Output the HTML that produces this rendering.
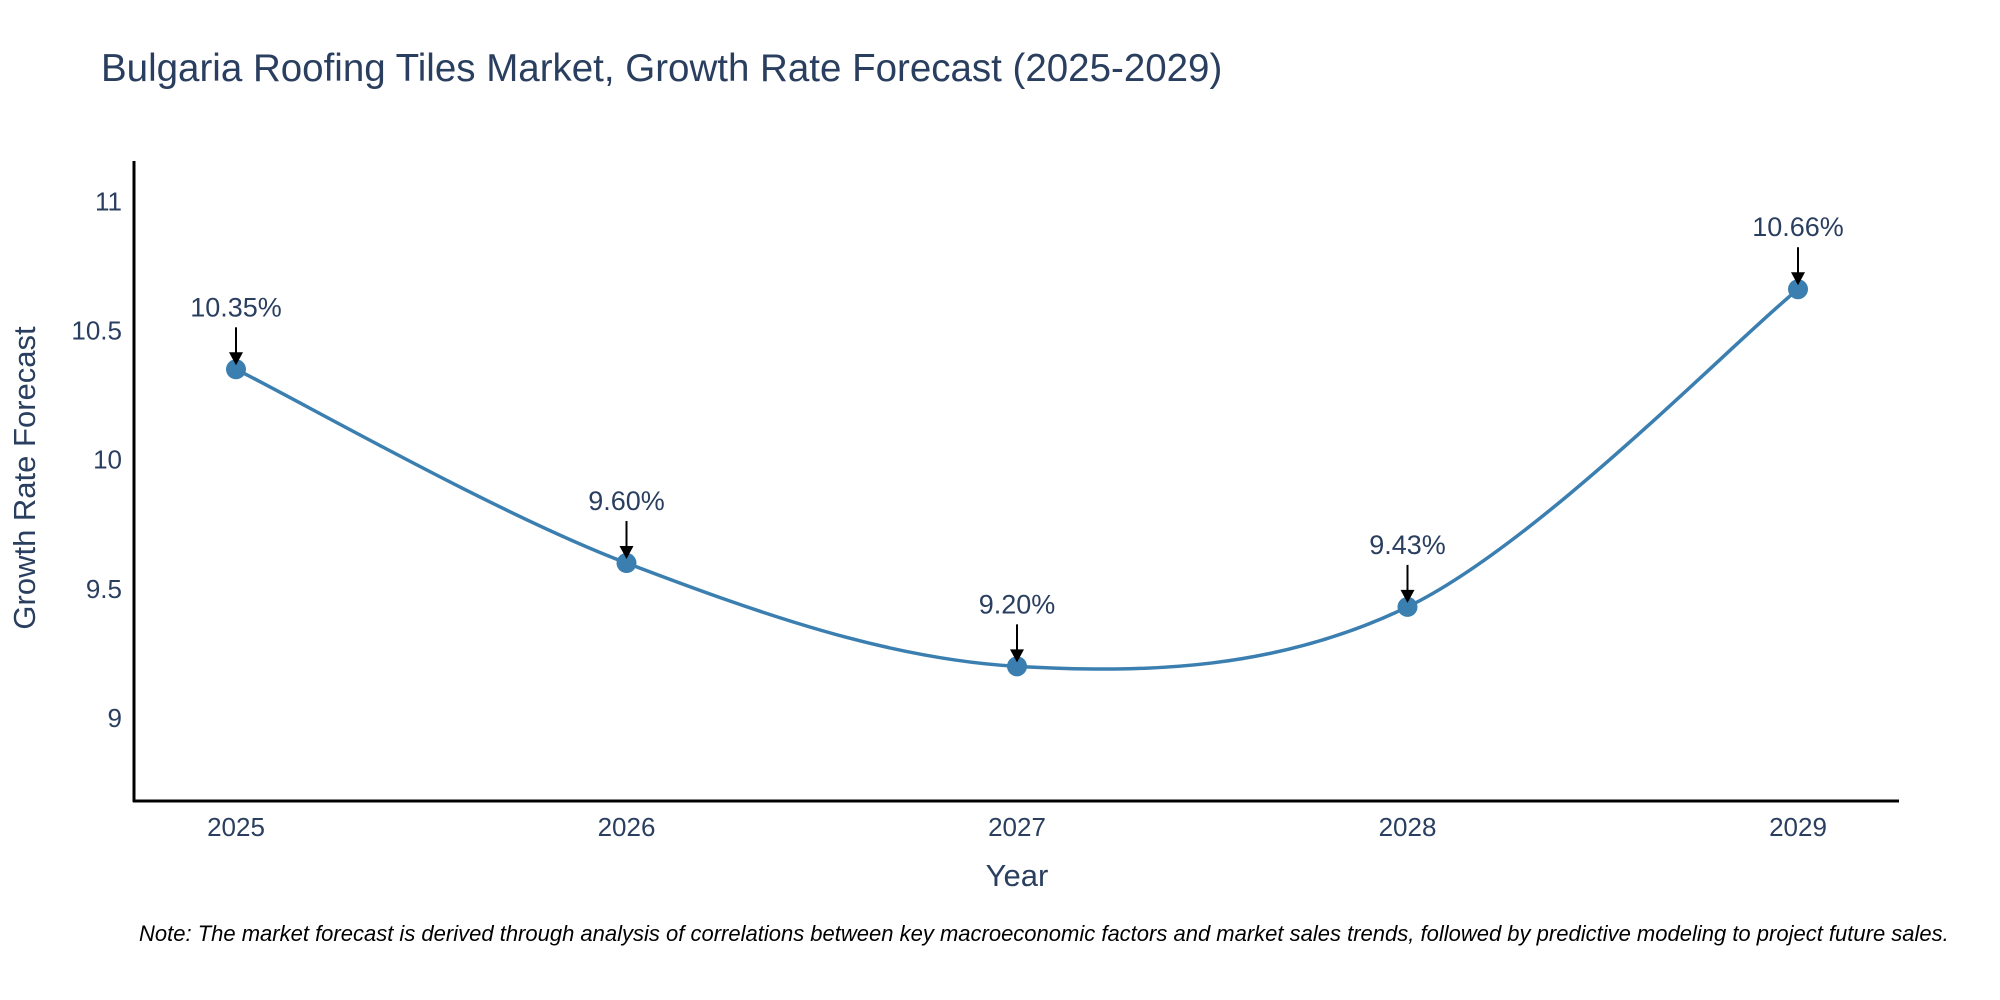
<!DOCTYPE html>
<html><head><meta charset="utf-8"><style>
body{margin:0;background:#fff;}
svg{display:block;font-family:"Liberation Sans",sans-serif;}
</style></head><body>
<svg id="chart" width="2000" height="1000">
<text x="101" y="81" font-size="38.5" fill="#2a3f5f">Bulgaria Roofing Tiles Market, Growth Rate Forecast (2025-2029)</text>
<g id="yticks"></g><g id="xticks"></g>
<line x1="134" y1="161" x2="134" y2="802" stroke="#000" stroke-width="3"/>
<line x1="133" y1="801" x2="1899" y2="801" stroke="#000" stroke-width="3"/>
<path id="line" fill="none" stroke="#3b7fb1" stroke-width="3.5"/>
<g id="marks"></g>
<text x="1017" y="886" font-size="31" fill="#2a3f5f" text-anchor="middle">Year</text>
<text transform="translate(35,478) rotate(-90)" font-size="31" fill="#2a3f5f" text-anchor="middle">Growth Rate Forecast</text>
<text x="139" y="941" font-size="22" font-style="italic" fill="#000">Note: The market forecast is derived through analysis of correlations between key macroeconomic factors and market sales trends, followed by predictive modeling to project future sales.</text>
</svg>
<script>
const years=["2025","2026","2027","2028","2029"];
const values=[10.35,9.60,9.20,9.43,10.66];
const labels=["10.35%","9.60%","9.20%","9.43%","10.66%"];
const yTicks=[9,9.5,10,10.5,11];
const NS="http://www.w3.org/2000/svg";
function xs(i){return 236+i*(1798-236)/(years.length-1);}
function ys(v){return 718-(v-9)*258.3;}
function mk(t,a,p){const e=document.createElementNS(NS,t);for(const k in a)e.setAttribute(k,a[k]);p.appendChild(e);return e;}
const yt=document.getElementById('yticks');
yTicks.forEach(v=>{const t=mk('text',{x:122,y:ys(v)+9,'font-size':26,fill:'#2a3f5f','text-anchor':'end'},yt);


t.textContent=v;});
const xt=document.getElementById('xticks');
years.forEach((y,i)=>{const t=mk('text',{x:xs(i),y:836,'font-size':26,fill:'#2a3f5f','text-anchor':'middle'},xt);


t.textContent=y;});
const P=values.map((v,i)=>[xs(i),ys(v)]);
let d='M'+P[0][0]+','+P[0][1];
for(let i=0;i<P.length-1;i++){const p0=P[Math.max(0,i-1)],p1=P[i],p2=P[i+1],p3=P[Math.min(P.length-1,i+2)];const k=1/6;
d+=` C${p1[0]+(p2[0]-p0[0])*k},${p1[1]+(p2[1]-p0[1])*k} ${p2[0]-(p3[0]-p1[0])*k},${p2[1]-(p3[1]-p1[1])*k} ${p2[0]},${p2[1]}`;}
document.getElementById('line').setAttribute('d',d);
const g=document.getElementById('marks');
P.forEach((p,i)=>{
const c=mk('circle',{cx:p[0],cy:p[1],r:10,fill:'#3b7fb1'},g);


const l=mk('line',{x1:p[0],y1:p[1]-42,x2:p[0],y2:p[1]-16,stroke:'#000','stroke-width':2},g);


const a=mk('path',{d:`M${p[0]-7},${p[1]-17} L${p[0]+7},${p[1]-17} L${p[0]},${p[1]-4} Z`,fill:'#000'},g);


const t=mk('text',{x:p[0],y:p[1]-53,'font-size':27,fill:'#2a3f5f','text-anchor':'middle'},g);


t.textContent=labels[i];});
</script>
</body></html>
